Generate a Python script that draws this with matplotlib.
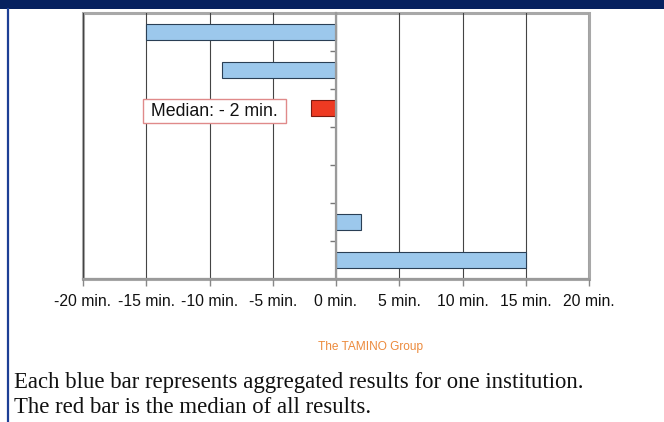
import numpy as np
import matplotlib
matplotlib.use("Agg")
import matplotlib.pyplot as plt
from matplotlib.patches import Rectangle
from matplotlib.lines import Line2D

# ---- data ----
rows = ["A", "B", "Median", "C", "D", "E", "F"]          # top to bottom
values = [-15, -9, -2, np.nan, np.nan, 2, 15]            # minutes
is_median = [False, False, True, False, False, False, False]
xticks = [-20, -15, -10, -5, 0, 5, 10, 15, 20]
xtick_labels = [f"{v} min." for v in xticks]
median_label = " Median: - 2 min. "
credit = "The TAMINO Group"
caption = ["Each blue bar represents aggregated results for one institution.",
           "The red bar is the median of all results."]

W, H = 664, 422
fig = plt.figure(figsize=(W / 100, H / 100), dpi=100)
fig.patch.set_facecolor("white")

# header band and left border
fig.add_artist(Rectangle((0, 1 - 9 / H), 1, 9 / H, transform=fig.transFigure,
                         facecolor="#06215f", edgecolor="none", zorder=5))
fig.add_artist(Line2D([7.5 / W, 7.5 / W], [0, 1 - 9 / H], transform=fig.transFigure,
                      color="#1d3f95", lw=1.6, zorder=5))

ax = fig.add_axes([83 / W, 1 - 279 / H, (589 - 83) / W, (279 - 13) / H])
y = np.arange(len(rows))
blue, red = "#9cc8ec", "#ee3a22"
for yi, v, m in zip(y, values, is_median):
    if np.isnan(v):
        continue
    ax.barh(yi, v, height=0.42, color=red if m else blue,
            edgecolor="#7a1a10" if m else "#2a3f55", linewidth=0.8, zorder=3)

ax.set_xlim(-20, 20)
ax.set_ylim(len(rows) - 0.5, -0.5)

# frame
ax.patch.set_edgecolor("#a8a8a8")
ax.patch.set_linewidth(2.2)
for s in ["top", "right"]:
    ax.spines[s].set_visible(False)
ax.spines["bottom"].set_color("#9a9a9a")
ax.spines["bottom"].set_linewidth(1.6)
ax.spines["left"].set_position(("data", 0))
ax.spines["left"].set_color("#9a9a9a")
ax.spines["left"].set_linewidth(1.6)
ax.spines["left"].set_zorder(4)

# vertical gridlines
ax.set_xticks(xticks)
ax.set_xticklabels(xtick_labels, fontfamily="Liberation Sans", fontsize=11.3, color="#111111")
ax.xaxis.grid(True, color="#444444", linewidth=0.8, zorder=1)
ax.tick_params(axis="x", direction="out", length=5, width=1, color="#888888", pad=6)

ax.set_yticks(y[:-1] + 0.5)
ax.set_yticklabels([])
ax.tick_params(axis="y", direction="out", length=4, width=1, color="#777777")

ax.text(-9.6, 2.08, median_label, fontfamily="Liberation Sans", fontsize=12.8,
        ha="center", va="center", color="#111111", zorder=6,
        bbox=dict(boxstyle="square,pad=0.2", facecolor="white",
                  edgecolor="#e08a8a", linewidth=1.0))

fig.text(371 / W, 1 - 347 / H, credit, fontfamily="Liberation Sans", fontsize=8.6,
         color="#ec8a3c", ha="center", va="center")
fig.text(14 / W, 1 - 388 / H, caption[0], fontfamily="Liberation Serif", fontsize=16.4,
         color="#111111", ha="left", va="baseline")
fig.text(14 / W, 1 - 413 / H, caption[1], fontfamily="Liberation Serif", fontsize=16.4,
         color="#111111", ha="left", va="baseline")

fig.savefig("out.png", dpi=100)
